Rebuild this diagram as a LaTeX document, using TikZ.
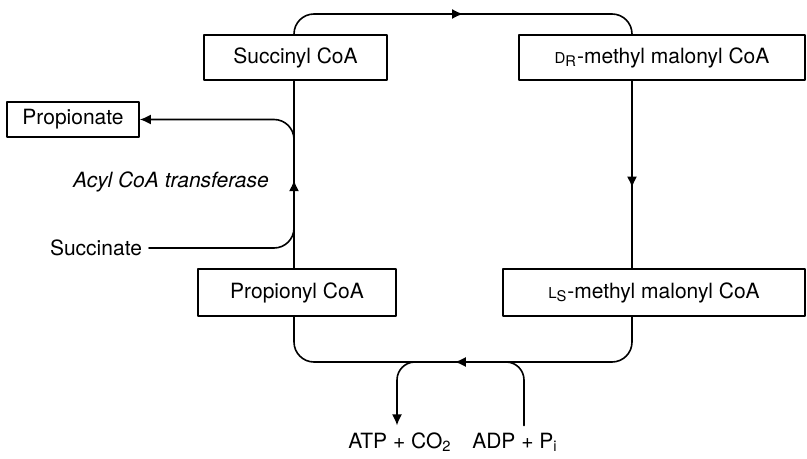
\documentclass[tikz,border=0pt]{standalone}
\usepackage{fontspec}
\setmainfont{TeX Gyre Heros}
\usetikzlibrary{arrows.meta,decorations.markings}
\tikzset{
  flow/.style={line width=0.8pt,line cap=round},
  box/.style={draw,line width=0.8pt,inner sep=0pt,minimum height=22.5pt},
  tip/.style={-{Latex[length=5.5pt,width=5pt]}},
  midarrow/.style={postaction={decorate,decoration={markings,
    mark=at position #1 with {\arrow{Latex[length=5.5pt,width=5pt]}}}}}
}
\newcommand{\smallcap}[1]{{\fontsize{7.5}{8}\selectfont #1}}

\begin{document}
\begin{tikzpicture}[x=0.5pt,y=-0.5pt,font=\fontsize{10.5}{12.6}\selectfont,line join=round]
  \useasboundingbox (0,0) rectangle (807,459);
  % compounds of the cycle
  \node[box,minimum width=91.5pt] (succ) at (295.5,57.5) {Succinyl CoA};
  \node[box,minimum width=143pt] (dr) at (662,57.5) {\smallcap{D}\textsubscript{R}-methyl malonyl CoA};
  \node[box,minimum width=99pt,minimum height=23.5pt] (pyl) at (297,292.5) {Propionyl CoA};
  \node[box,minimum width=151pt,minimum height=23.5pt] (ls) at (654,292.5) {\smallcap{L}\textsubscript{S}-methyl malonyl CoA};
  \node[box,minimum width=66pt,minimum height=17.5pt] (pion) at (73,119.5) {Propionate};
  % side labels
  \node (succt) at (96,248) {Succinate};
  \node[font=\fontsize{10.5}{12.6}\selectfont\itshape] (enz) at (171,182) {Acyl CoA transferase};
  \node (atp) at (400,442) {ATP + CO\textsubscript{2}};
  \node (adp) at (515,442) {ADP + P\textsubscript{i}};
  % guide points of the loop
  \coordinate (lx) at (294,0);
  \coordinate (rx) at (632,0);
  \coordinate (topy) at (0,14);
  \coordinate (boty) at (0,362);
  \coordinate (outb) at (294,150);
  \coordinate (inb) at (294,222);
  \coordinate (atpb) at (425,362);
  \coordinate (adpb) at (500,362);
  % the cycle
  \draw[flow,rounded corners=10pt,midarrow=0.5]
    (lx |- succ.north) -- (lx |- topy) -- (rx |- topy) -- (rx |- dr.north);
  \draw[flow,midarrow=0.57] (rx |- dr.south) -- (rx |- ls.north);
  \draw[flow,rounded corners=10pt,midarrow=0.52]
    (rx |- ls.south) -- (rx |- boty) -- (lx |- boty) -- (lx |- pyl.south);
  \draw[flow,midarrow=0.47] (lx |- pyl.north) -- (lx |- succ.south);
  % branches
  \draw[flow,tip,rounded corners=10pt] (outb) |- (pion.east);
  \draw[flow,rounded corners=10pt] (succt.east) -| (inb);
  \draw[flow,tip,rounded corners=9pt] (atpb) -| ([xshift=-1.5pt]atp.north);
  \draw[flow,rounded corners=9pt] ([xshift=4.5pt]adp.north) |- (adpb);
\end{tikzpicture}
\end{document}
